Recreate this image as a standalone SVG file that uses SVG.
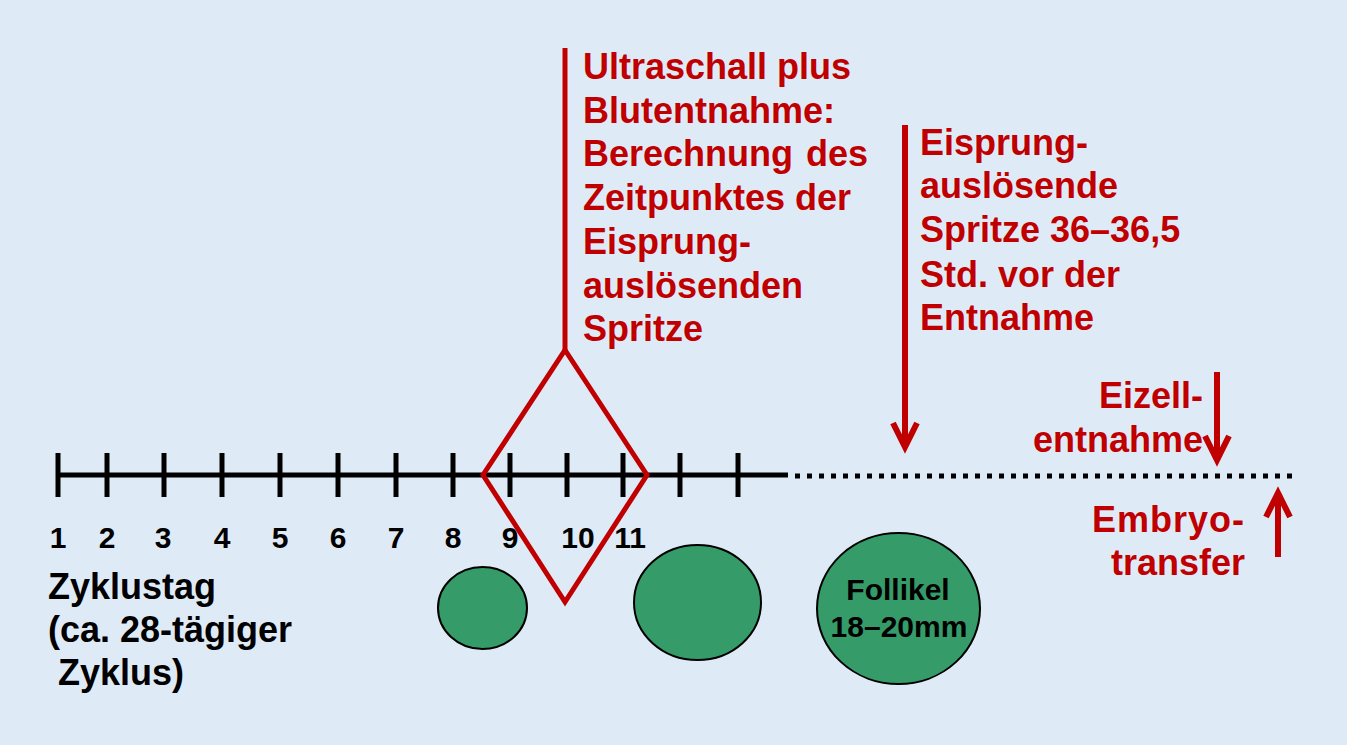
<svg xmlns="http://www.w3.org/2000/svg" width="1347" height="745" viewBox="0 0 1347 745">
<style>
.red{fill:#c00000;font-family:"Liberation Sans",Arial,sans-serif;font-weight:bold;font-size:36px}
.blk{fill:#000;font-family:"Liberation Sans",Arial,sans-serif;font-weight:bold;font-size:36px}
.fl{fill:#000;font-family:"Liberation Sans",Arial,sans-serif;font-weight:bold;font-size:30px;text-anchor:middle}
.num{fill:#000;font-family:"Liberation Sans",Arial,sans-serif;font-weight:bold;font-size:30px;text-anchor:middle}
.tick{stroke:#000;stroke-width:5}
.rl{stroke:#c00000;stroke-width:6;fill:none}
.fol{fill:#359b69;stroke:#000;stroke-width:2}
</style>
<defs>
<marker id="chev" markerUnits="userSpaceOnUse" markerWidth="40" markerHeight="40" refX="0" refY="0" orient="auto" overflow="visible">
<path d="M-24,-12 L0,0 L-24,12" fill="none" stroke="#c00000" stroke-width="6" stroke-linejoin="miter"/>
</marker>
</defs>
<rect width="1347" height="745" fill="#deebf7"/>
<g id="timeline">
<line x1="56" y1="475" x2="788" y2="475" stroke="#000" stroke-width="5"/>
<line x1="795" y1="476" x2="1292" y2="476" stroke="#000" stroke-width="5" stroke-dasharray="5 7"/>
<g class="tick">
<line x1="58" y1="453" x2="58" y2="497"/>
<line x1="107" y1="453" x2="107" y2="497"/>
<line x1="164" y1="453" x2="164" y2="497"/>
<line x1="222" y1="453" x2="222" y2="497"/>
<line x1="280" y1="453" x2="280" y2="497"/>
<line x1="338" y1="453" x2="338" y2="497"/>
<line x1="396" y1="453" x2="396" y2="497"/>
<line x1="453" y1="453" x2="453" y2="497"/>
<line x1="510" y1="453" x2="510" y2="497"/>
<line x1="567" y1="453" x2="567" y2="497"/>
<line x1="623" y1="453" x2="623" y2="497"/>
<line x1="680" y1="453" x2="680" y2="497"/>
<line x1="738" y1="453" x2="738" y2="497"/>
</g>
<g class="num">
<text x="58" y="548">1</text>
<text x="107" y="548">2</text>
<text x="163" y="548">3</text>
<text x="222" y="548">4</text>
<text x="280" y="548">5</text>
<text x="338" y="548">6</text>
<text x="396" y="548">7</text>
<text x="453" y="548">8</text>
<text x="510" y="548">9</text>
<text x="578" y="548">10</text>
<text x="630" y="548">11</text>
</g>
</g>
<g id="zyklustag">
<text class="blk" x="48" y="599">Zyklustag</text>
<text class="blk" x="48" y="642">(ca. 28-tägiger</text>
<text class="blk" x="58" y="685">Zyklus)</text>
</g>
<g id="follikel-small"><ellipse class="fol" cx="482.5" cy="608" rx="44.5" ry="41"/></g>
<g id="follikel-medium"><ellipse class="fol" cx="697.5" cy="602.5" rx="63.5" ry="57.5"/></g>
<g id="follikel-large">
<ellipse class="fol" cx="898.5" cy="608.5" rx="81.5" ry="75.5"/>
<text class="fl" x="898" y="600">Follikel</text>
<text class="fl" x="899" y="637">18–20mm</text>
</g>
<g id="ultraschall">
<line class="rl" x1="565" y1="48" x2="565" y2="350" style="stroke-width:5"/>
<polygon class="rl" points="565,350 647,475 565,602 483,475" style="stroke-width:5"/>
<text class="red" x="583" y="79">Ultraschall plus</text>
<text class="red" x="583" y="123">Blutentnahme:</text>
<text class="red" x="583" y="166" word-spacing="3">Berechnung des</text>
<text class="red" x="583" y="210">Zeitpunktes der</text>
<text class="red" x="583" y="254">Eisprung-</text>
<text class="red" x="583" y="298">auslösenden</text>
<text class="red" x="583" y="341">Spritze</text>
</g>
<g id="eisprung">
<text class="red" x="920" y="155">Eisprung-</text>
<text class="red" x="920" y="198">auslösende</text>
<text class="red" x="920" y="242">Spritze 36–36,5</text>
<text class="red" x="920" y="287">Std. vor der</text>
<text class="red" x="920" y="330">Entnahme</text>
</g>
<g id="eizell">
<text class="red" x="1203" y="408" text-anchor="end">Eizell-</text>
<text class="red" x="1203" y="452" text-anchor="end">entnahme</text>
</g>
<g id="embryo">
<text class="red" x="1245" y="532" text-anchor="end" letter-spacing="1">Embryo-</text>
<text class="red" x="1245" y="575" text-anchor="end">transfer</text>
</g>
<g id="connectors">
<line class="rl" x1="905" y1="125" x2="905" y2="447" marker-end="url(#chev)"/>
<line class="rl" x1="1217" y1="372" x2="1217" y2="460" marker-end="url(#chev)"/>
<line class="rl" x1="1278" y1="557" x2="1278" y2="493" marker-end="url(#chev)"/>
</g>
</svg>
